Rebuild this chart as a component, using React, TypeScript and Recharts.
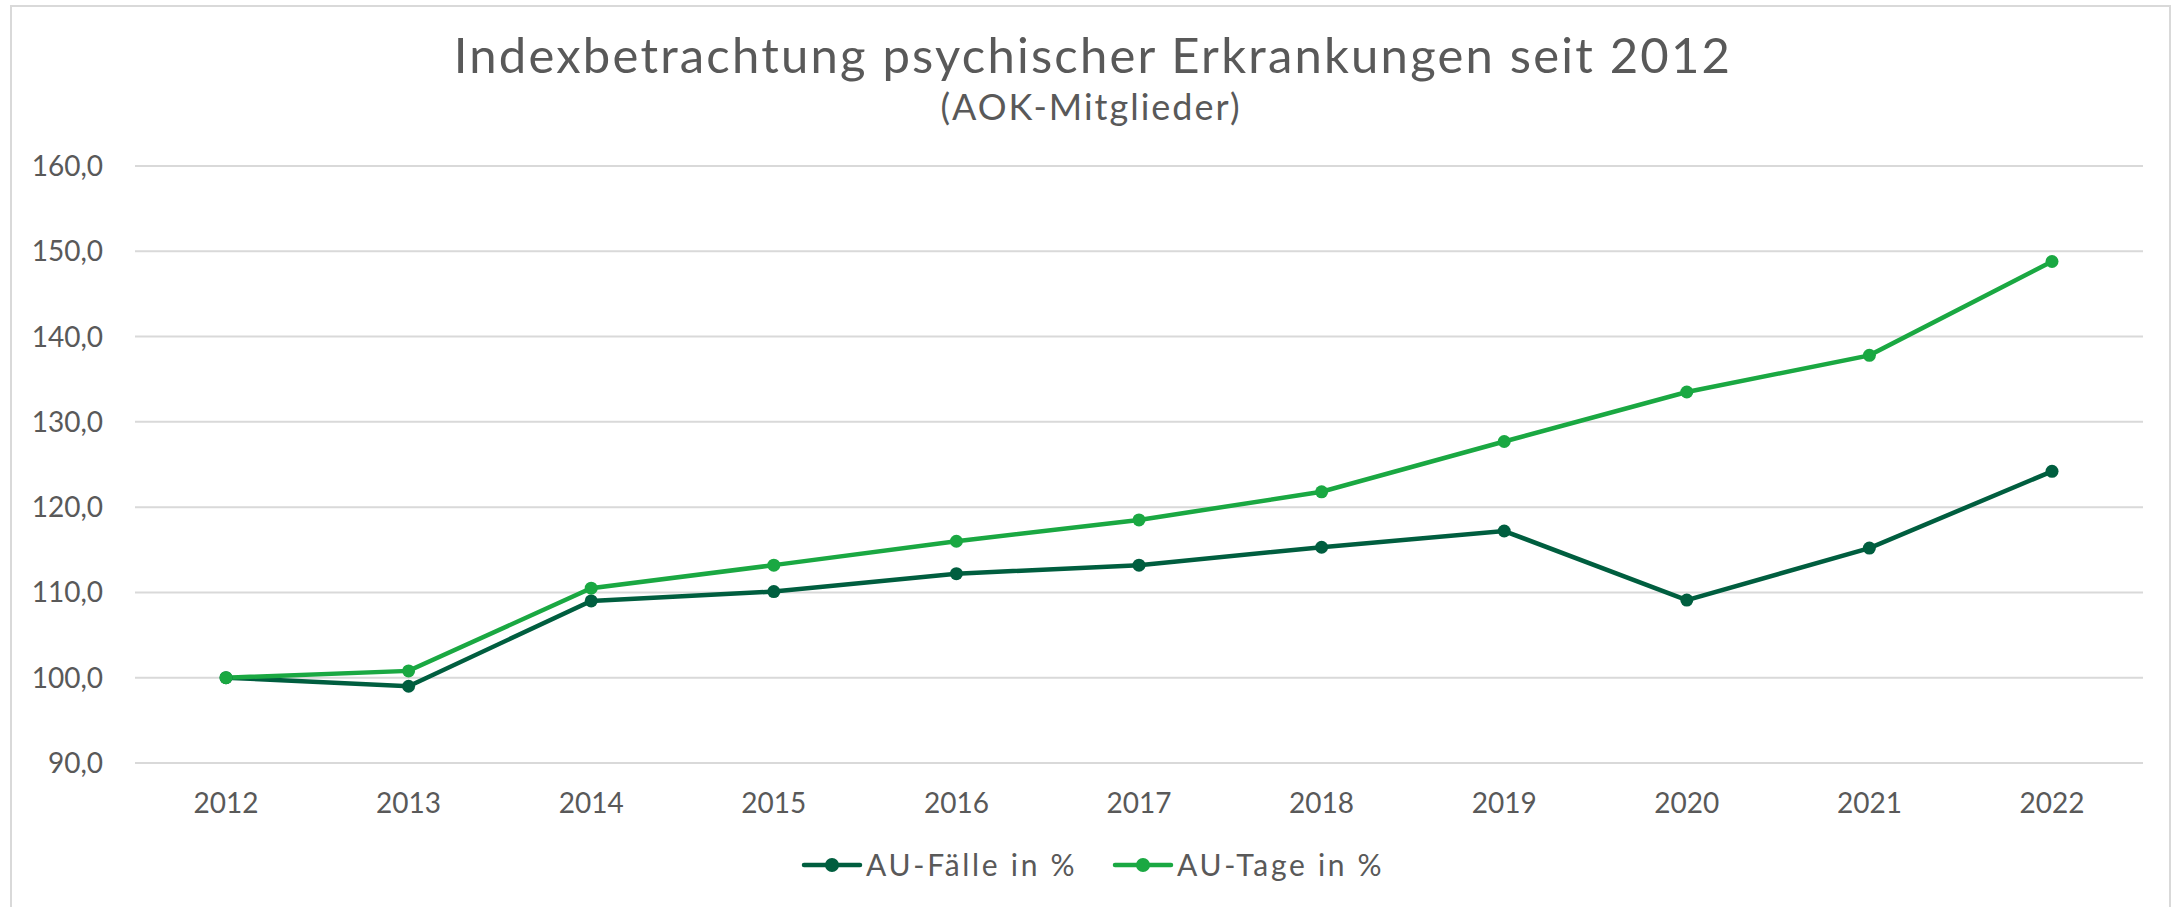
import { LineChart, Line, XAxis, YAxis, CartesianGrid } from "recharts";

const years = ["2012", "2013", "2014", "2015", "2016", "2017", "2018", "2019", "2020", "2021", "2022"];
const auFaelle = [100.0, 99.0, 109.0, 110.1, 112.2, 113.2, 115.3, 117.2, 109.1, 115.2, 124.2];
const auTage = [100.0, 100.8, 110.5, 113.2, 116.0, 118.5, 121.8, 127.7, 133.5, 137.8, 148.8];
const yTicks = [90, 100, 110, 120, 130, 140, 150, 160];

const title = "Indexbetrachtung psychischer Erkrankungen seit 2012";
const subtitle = "(AOK-Mitglieder)";

const series = [
  { key: "faelle", name: "AU-Fälle in %", color: "#005E3F", values: auFaelle },
  { key: "tage", name: "AU-Tage in %", color: "#1AA842", values: auTage },
];

const W = 2172;
const H = 907;
const TEXT = "#595959";
const FONT = "Lato, 'Open Sans', sans-serif";

// one row per year for recharts
const chartData = years.map((year, i) => {
  const row: Record<string, string | number> = { year };
  series.forEach((s) => {
    row[s.key] = s.values[i];
  });
  return row;
});

const fmt = (v: number) => v.toFixed(1).replace(".", ",");

// legend positions
const legendX = [804, 1115];

export default function App() {
  return (
    <div style={{ position: "relative", width: W, height: H, overflow: "hidden", background: "#fff", fontFamily: FONT }}>
      <style>{`body{margin:0}`}</style>
      <div
        style={{
          position: "absolute",
          left: 10,
          top: 5,
          width: 2161,
          height: 920,
          border: "2px solid #d9d9d9",
          boxSizing: "border-box",
        }}
      />
      <LineChart
        width={W}
        height={H}
        data={chartData}
        margin={{ top: 166, right: 29, left: 0, bottom: 84 }}
      >
        <CartesianGrid vertical={false} stroke="#d9d9d9" strokeWidth={2} />
        <XAxis
          dataKey="year"
          height={60}
          padding={{ left: 91, right: 91 }}
          axisLine={false}
          tickLine={false}
          tickSize={0}
          tickMargin={30}
          tick={{ fill: TEXT, fontSize: 28 }}
        />
        <YAxis
          width={135}
          domain={[90, 160]}
          ticks={yTicks}
          axisLine={false}
          tickLine={false}
          tickSize={0}
          tickMargin={32}
          tickFormatter={fmt}
          tick={{ fill: TEXT, fontSize: 28 }}
        />
        {series.map((s) => (
          <Line
            key={s.key}
            type="linear"
            dataKey={s.key}
            name={s.name}
            stroke={s.color}
            strokeWidth={4.5}
            dot={{ r: 6.5, fill: s.color, stroke: "none" }}
            activeDot={false}
            isAnimationActive={false}
          />
        ))}
      </LineChart>
      <svg
        width={W}
        height={H}
        style={{ position: "absolute", left: 0, top: 0, pointerEvents: "none", fontFamily: FONT }}
      >
        <text x={1093} y={73} textAnchor="middle" fontSize={49} fill={TEXT} letterSpacing={2.2}>
          {title}
        </text>
        <text x={1091} y={120} textAnchor="middle" fontSize={36} fill={TEXT} letterSpacing={2}>
          {subtitle}
        </text>
        {series.map((s, i) => (
          <g key={s.key}>
            <line x1={legendX[i]} x2={legendX[i] + 56} y1={865} y2={865} stroke={s.color} strokeWidth={4.5} strokeLinecap="round" />
            <circle cx={legendX[i] + 28} cy={865} r={7} fill={s.color} />
            <text x={legendX[i] + 62} y={876} fontSize={30} fill={TEXT} letterSpacing={2.7}>
              {s.name}
            </text>
          </g>
        ))}
      </svg>
    </div>
  );
}
